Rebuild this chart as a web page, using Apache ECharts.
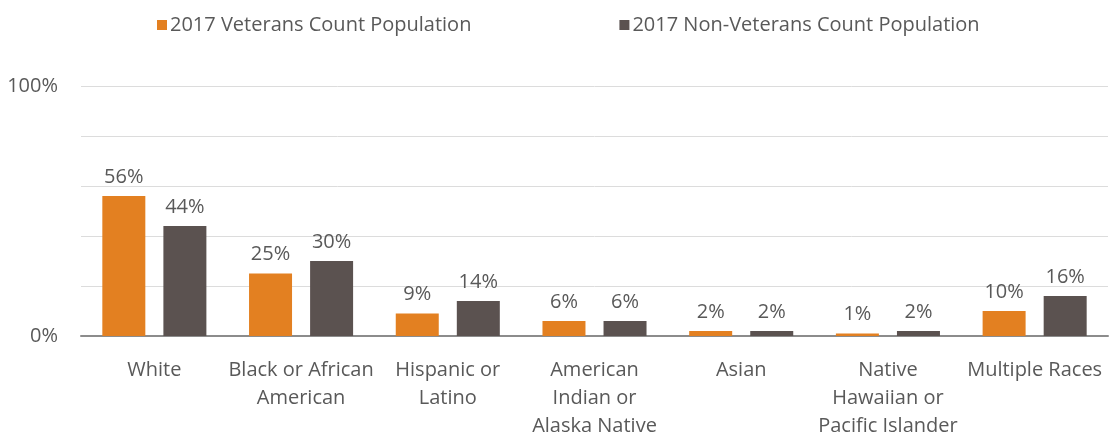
<!DOCTYPE html>
<html>
<head>
<meta charset="utf-8">
<script src="https://cdn.jsdelivr.net/npm/echarts@6/dist/echarts.min.js"></script>
<style>
  html, body { margin: 0; padding: 0; background: #fff; }
  #chart { width: 1110px; height: 433px; }
</style>
</head>
<body>
<div id="chart"></div>
<script>
const categories = [
  'White',
  'Black or African\nAmerican',
  'Hispanic or\nLatino',
  'American\nIndian or\nAlaska Native',
  'Asian',
  'Native\nHawaiian or\nPacific Islander',
  'Multiple Races',
]
const veterans = [56, 25, 9, 6, 2, 1, 10]
const nonVeterans = [44, 30, 14, 6, 2, 2, 16]
const seriesNames = ['2017 Veterans Count Population', '2017 Non-Veterans Count Population']
const yTickLabels = { 0: '0%', 100: '100%' }

const font = '"Open Sans", "Noto Sans", sans-serif'
const textColor = '#595959'

const chart = echarts.init(document.getElementById('chart'))

function barSeries(name, data, color) {
  return {
    name: name,
    type: 'bar',
    data: data,
    barWidth: 43,
    barGap: '42%',
    itemStyle: { color: color },
    label: {
      show: true,
      position: 'top',
      distance: 9,
      formatter: '{c}%',
      color: textColor,
      fontFamily: font,
      fontSize: 20,
    },
  }
}

chart.setOption({
  animation: false,
  legend: {
    top: 10,
    left: 152,
    itemWidth: 10,
    itemHeight: 10,
    itemGap: 148,
    icon: 'rect',
    textStyle: { color: textColor, fontFamily: font, fontSize: 20, padding: [0, 0, 0, -2] },
    data: seriesNames,
  },
  grid: { left: 81, right: 2, top: 86, bottom: 97, outerBoundsMode: 'none' },
  xAxis: {
    type: 'category',
    data: categories,
    axisLine: { lineStyle: { color: '#8c8c8c', width: 2 } },
    axisTick: { show: false },
    axisLabel: {
      color: textColor,
      fontFamily: font,
      fontSize: 20,
      lineHeight: 28,
      margin: 20,
      interval: 0,
    },
  },
  yAxis: {
    type: 'value',
    min: 0,
    max: 100,
    interval: 20,
    axisLine: { show: false },
    axisTick: { show: false },
    splitLine: { lineStyle: { color: '#dcdcdc', width: 1 } },
    axisLabel: {
      color: textColor,
      fontFamily: font,
      fontSize: 20,
      margin: 23,
      formatter: (v) => yTickLabels[v] || '',
    },
  },
  series: [
    barSeries(seriesNames[0], veterans, '#E38021'),
    barSeries(seriesNames[1], nonVeterans, '#5B5250'),
  ],
})
</script>
</body>
</html>
